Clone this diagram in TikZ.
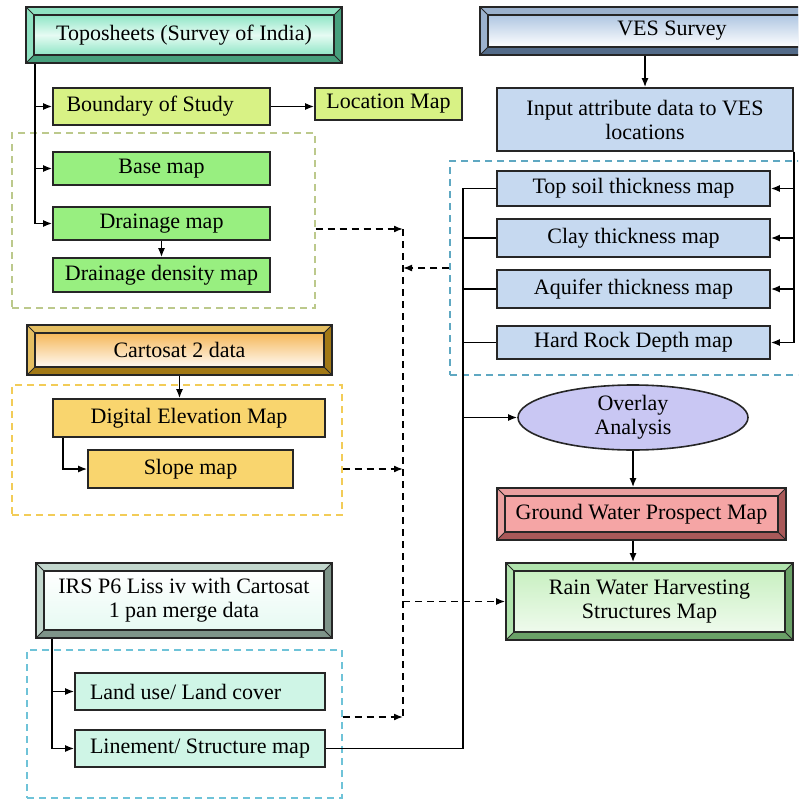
\documentclass[tikz,border=0pt]{standalone}
\usepackage{fontspec}
\setmainfont{Liberation Serif}
\usepackage{xcolor}
\definecolor{topoFrame}{HTML}{5FD6A8}
\definecolor{topoTop}{HTML}{8FE6C6}
\definecolor{topoMid}{HTML}{E6FBF3}
\definecolor{vesFrame}{HTML}{7090B8}
\definecolor{vesTop}{HTML}{AFC6E2}
\definecolor{cartoFrame}{HTML}{D9A21E}
\definecolor{cartoTop}{HTML}{F5B85A}
\definecolor{irsFrame}{HTML}{A9C6B8}
\definecolor{irsFill}{HTML}{E6FAF2}
\definecolor{gwpFrame}{HTML}{E27878}
\definecolor{gwpFill}{HTML}{F5A5A5}
\definecolor{rwhFrame}{HTML}{8ED88A}
\definecolor{rwhFill}{HTML}{C9F0C2}
\definecolor{boundFill}{HTML}{D8F285}
\definecolor{drainFill}{HTML}{98EF80}
\definecolor{demFill}{HTML}{F9D56E}
\definecolor{vesFill}{HTML}{C6D9F0}
\definecolor{landFill}{HTML}{CFF5E6}
\definecolor{overlayFill}{HTML}{C9C7F3}
\definecolor{greenDash}{HTML}{BCC98C}
\definecolor{goldDash}{HTML}{F2CC58}
\definecolor{vesDash}{HTML}{5FA8C2}
\definecolor{irsDash}{HTML}{6FC3D8}
\usetikzlibrary{%
    shapes,
    shapes.geometric,
    arrows.meta,
    positioning,
    calc
}

\begin{document}
\begin{tikzpicture}[x=1pt, y=-1pt, >={Latex[length=9pt,width=7pt]},
                font=\fontsize{22}{24}\selectfont,
                box/.style={rectangle, draw=black!85, line width=1.6pt, inner sep=2pt, align=center, text centered},
                group/.style={rectangle, draw=#1, dash pattern=on 7pt off 5pt, line width=1.2pt},
                bevel/.style 2 args={rectangle, draw=black!85, line width=1.6pt, fill=#1, align=center, path picture={
                    \coordinate (bsw) at (path picture bounding box.south west);
                    \coordinate (bne) at (path picture bounding box.north east);
                    \coordinate (isw) at ($(bsw)+(8pt,8pt)$);
                    \coordinate (ine) at ($(bne)+(-8pt,-8pt)$);
                    \fill[black, opacity=.25] (bsw) -| (bne) -- (ine) |- (isw) -- cycle;
                    \fill[white, opacity=.3] (bsw) |- (bne) -- (ine) -| (isw) -- cycle;
                    \shade[#2] (isw) rectangle (ine);
                    \draw[line width=1.6pt, black!85] (isw) rectangle (ine);
                    \draw[line width=.8pt, black!85] (bsw) -- (isw) (bne) -- (ine) (bsw -| bne) -- (isw -| ine) (bsw |- bne) -- (isw |- ine);
                }},
                ellip/.style={ellipse, draw=black!85, line width=1.6pt, fill=overlayFill, align=center, inner sep=0pt},
                flow/.style={draw, line width=1.6pt, ->},
                line/.style={draw, line width=1.6pt},
                dline/.style={draw, line width=1.6pt, dash pattern=on 7pt off 5pt},
                dflow/.style={draw, line width=1.6pt, dash pattern=on 7pt off 5pt, ->}
            ]

            \useasboundingbox (0,0) rectangle (798,800);
            \clip (0,0) rectangle (798,800);

            \node (greengroup) at (163.5,220.5) [group=greenDash, minimum width=303pt, minimum height=175pt] {};
            \node (goldgroup) at (177,450) [group=goldDash, minimum width=330pt, minimum height=130pt] {};
            \node (vesgroup) at (635,268) [group=vesDash, minimum width=370pt, minimum height=214pt] {};
            \node (irsgroup) at (184.5,724) [group=irsDash, minimum width=315pt, minimum height=148pt] {};

            \node (topo) at (184,35) [bevel={topoFrame}{top color=topoTop, bottom color=topoTop, middle color=topoMid}, minimum width=316pt, minimum height=56pt] {Toposheets (Survey of India)};
            \node (boundary) at (161.5,106.5) [box, fill=boundFill, minimum width=217pt, minimum height=37pt, text width=190pt, align=flush left] {Boundary of Study};
            \node (location) at (388.5,104) [box, fill=boundFill, minimum width=147pt, minimum height=32pt] {Location Map};
            \node (base) at (161.5,168.5) [box, fill=drainFill, minimum width=217pt, minimum height=33pt] {Base map};
            \node (drainage) at (161.5,223.5) [box, fill=drainFill, minimum width=217pt, minimum height=33pt] {Drainage map};
            \node (density) at (161.5,275) [box, fill=drainFill, minimum width=217pt, minimum height=34pt] {Drainage density map};

            \node (cartosat) at (179.5,350) [bevel={cartoFrame}{top color=cartoTop, bottom color=white!95!orange}, minimum width=305pt, minimum height=50pt] {Cartosat 2 data};
            \node (dem) at (189,418) [box, fill=demFill, minimum width=272pt, minimum height=38pt] {Digital Elevation Map};
            \node (slope) at (190.5,469) [box, fill=demFill, minimum width=205pt, minimum height=38pt] {Slope map};

            \node (irs) at (184,600.5) [bevel={irsFrame}{top color=white, bottom color=irsFill}, minimum width=296pt, minimum height=75pt] {IRS P6 Liss iv with Cartosat\\1 pan merge data};
            \node (landuse) at (200,691.5) [box, fill=landFill, minimum width=250pt, minimum height=37pt, text width=220pt, align=flush left] {Land use/ Land cover};
            \node (linement) at (200,748.5) [box, fill=landFill, minimum width=250pt, minimum height=37pt] {Linement/ Structure map};

            \node (ves) at (672,31) [bevel={vesFrame}{top color=vesTop, bottom color=white}, minimum width=384pt, minimum height=48pt] {VES Survey};
            \node (input) at (645,119.5) [box, fill=vesFill, minimum width=296pt, minimum height=63pt] {Input attribute data to VES\\locations};
            \node (topsoil) at (633.5,188.5) [box, fill=vesFill, minimum width=273pt, minimum height=35pt] {Top soil thickness map};
            \node (clay) at (633.5,238) [box, fill=vesFill, minimum width=273pt, minimum height=38pt] {Clay thickness map};
            \node (aquifer) at (633.5,289) [box, fill=vesFill, minimum width=273pt, minimum height=38pt] {Aquifer thickness map};
            \node (hardrock) at (633.5,342.5) [box, fill=vesFill, minimum width=273pt, minimum height=33pt] {Hard Rock Depth map};

            \node (overlay) at (633,417.5) [ellip, minimum width=230pt, minimum height=65pt] {Overlay\\Analysis};
            \node (gwp) at (641.5,514) [bevel={gwpFrame}{top color=gwpFill, bottom color=gwpFill}, minimum width=289pt, minimum height=52pt] {Ground Water Prospect Map};
            \node (rwh) at (649.5,601.5) [bevel={rwhFrame}{top color=rwhFill, bottom color=white!70!rwhFill}, minimum width=287pt, minimum height=77pt] {Rain Water Harvesting\\Structures Map};

            \coordinate (topoout) at ($(topo.south west)+(10,0)$);
            \path [flow] (topoout) |- (boundary.west);
            \path [flow] (topoout) |- (base.west);
            \path [flow] (topoout) |- (drainage.west);
            \path [flow] (boundary.east) -- (boundary.east -| location.west);
            \path [flow] (drainage) -- (density);

            \path [flow] (cartosat.south) -- (cartosat.south |- dem.north);
            \path [flow] ($(dem.south west)+(11,0)$) |- (slope.west);

            \coordinate (irsout) at ($(irs.south west)+(17,0)$);
            \path [flow] (irsout) |- (landuse.west);
            \path [flow] (irsout) |- (linement.west);

            \path [flow] (ves.south -| input.north) -- (input.north);
            \coordinate (inputout) at (input.south east);
            \foreach \m in {topsoil, clay, aquifer, hardrock}
                \path [flow] (inputout) |- (\m.east);

            \coordinate (bus) at (463,0);
            \path [line] (topsoil.west) -| (bus |- linement.east) -- (linement.east);
            \foreach \m in {clay, aquifer, hardrock}
                \path [line] (\m.west) -- (bus |- \m.west);
            \path [flow] (bus |- overlay.west) -- (overlay.west);
            \path [flow] (overlay.south) -- (overlay.south |- gwp.north);
            \path [flow] (overlay.south |- gwp.south) -- (overlay.south |- rwh.north);

            \coordinate (dtop) at (403,229);
            \coordinate (dbot) at (403,717);
            \path [dline] (dtop) -- (dbot);
            \path [dflow] (greengroup.east |- dtop) -- (dtop);
            \path [dflow] (vesgroup.west) -- (dtop |- vesgroup.west);
            \path [dflow] (goldgroup.east |- slope.east) -- (dtop |- slope.east);
            \path [dflow] (irsgroup.east |- dbot) -- (dbot);
            \path [dflow] (dtop |- rwh.west) -- (rwh.west);
        \end{tikzpicture}
\end{document}
